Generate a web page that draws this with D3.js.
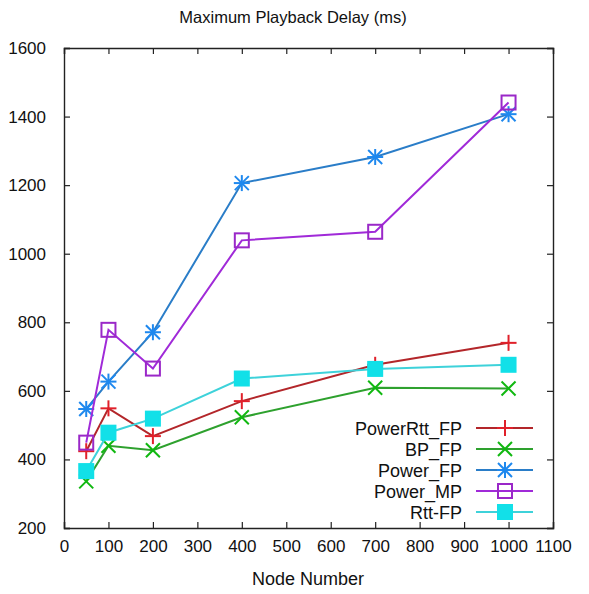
<!DOCTYPE html>
<html>
<head>
<meta charset="utf-8">
<script src="https://cdn.jsdelivr.net/npm/d3@7"></script>
<style>
  body { margin: 0; background: #fff; }
  svg text { font-family: "Liberation Sans", Arial, sans-serif; fill: #111; }
</style>
</head>
<body>
<div id="chart"></div>
<script>
// values
const nodes = [50, 100, 200, 400, 700, 1000];
const powerRttFP = [424, 549, 468, 570, 676, 740];
const bpFP = [336, 440, 427, 523, 609, 607];
const powerFP = [547, 627, 771, 1206, 1282, 1407];
const powerMP = [449, 778, 665, 1039, 1064, 1441];
const rttFP = [366, 478, 519, 636, 664, 676];
const xTicks = [0, 100, 200, 300, 400, 500, 600, 700, 800, 900, 1000, 1100];
const yTicks = [200, 400, 600, 800, 1000, 1200, 1400, 1600];

const series = [
  { name: "PowerRtt_FP", values: powerRttFP, line: "#b3262a", mark: "#e0202a", shape: "plus" },
  { name: "BP_FP", values: bpFP, line: "#2ea12e", mark: "#10b810", shape: "cross" },
  { name: "Power_FP", values: powerFP, line: "#2a7dc8", mark: "#1e88ee", shape: "star" },
  { name: "Power_MP", values: powerMP, line: "#a02ad8", mark: "#9a28c8", shape: "openSquare" },
  { name: "Rtt-FP", values: rttFP, line: "#3ed2da", mark: "#12e0e8", shape: "fillSquare" },
];

const width = 589, height = 594;
const margin = { top: 48, right: 36, bottom: 66, left: 64 };
const w = width - margin.left - margin.right;
const h = height - margin.top - margin.bottom;

const svg = d3.select("#chart").append("svg")
  .attr("width", width).attr("height", height);

const g = svg.append("g").attr("transform", `translate(${margin.left},${margin.top})`);

const x = d3.scaleLinear().domain([0, 1100]).range([0, w]);
const y = d3.scaleLinear().domain([200, 1600]).range([h, 0]);

// frame with inward ticks on all four sides
const tickLen = 6;
const fmt = d3.format("d");
g.append("g").attr("transform", `translate(0,${h})`)
  .call(d3.axisBottom(x).tickValues(xTicks).tickSize(-tickLen).tickPadding(12).tickFormat(fmt));
g.append("g")
  .call(d3.axisTop(x).tickValues(xTicks).tickSize(-tickLen).tickFormat(""));
g.append("g")
  .call(d3.axisLeft(y).tickValues(yTicks).tickSize(-tickLen).tickPadding(18).tickFormat(fmt));
g.append("g").attr("transform", `translate(${w},0)`)
  .call(d3.axisRight(y).tickValues(yTicks).tickSize(-tickLen).tickFormat(""));

g.selectAll(".domain").attr("stroke", "#222").attr("stroke-width", 1.4);
g.selectAll(".tick line").attr("stroke", "#222").attr("stroke-width", 1.2);
g.selectAll(".tick text").attr("font-size", 17).attr("fill", "#111")
  .attr("font-family", "Liberation Sans, Arial, sans-serif");

svg.append("text")
  .attr("x", 293).attr("y", 23)
  .attr("text-anchor", "middle").attr("font-size", 16.5)
  .text("Maximum Playback Delay (ms)");

svg.append("text")
  .attr("x", 308).attr("y", 585)
  .attr("text-anchor", "middle").attr("font-size", 18)
  .text("Node Number");

function drawMarker(sel, shape, color) {
  const s = 7;
  if (shape === "plus" || shape === "star") {
    sel.append("line").attr("x1", -s - 1).attr("x2", s + 1).attr("y1", 0).attr("y2", 0);
    sel.append("line").attr("x1", 0).attr("x2", 0).attr("y1", -s - 1).attr("y2", s + 1);
  }
  if (shape === "cross" || shape === "star") {
    sel.append("line").attr("x1", -s).attr("x2", s).attr("y1", -s).attr("y2", s);
    sel.append("line").attr("x1", -s).attr("x2", s).attr("y1", s).attr("y2", -s);
  }
  if (shape === "openSquare") {
    sel.append("rect").attr("x", -s).attr("y", -s).attr("width", 2 * s).attr("height", 2 * s)
      .attr("fill", "none");
  }
  if (shape === "fillSquare") {
    sel.append("rect").attr("x", -s).attr("y", -s).attr("width", 2 * s).attr("height", 2 * s)
      .attr("fill", color);
  }
  sel.selectAll("line, rect").attr("stroke", color).attr("stroke-width", 2);
}

const line = d3.line().x(d => x(d.n)).y(d => y(d.v));

series.forEach(s => {
  const pts = nodes.map((n, i) => ({ n: n, v: s.values[i] }));
  g.append("path").datum(pts)
    .attr("d", line)
    .attr("fill", "none")
    .attr("stroke", s.line)
    .attr("stroke-width", 2);
  g.selectAll(null).data(pts).enter().append("g")
    .attr("transform", d => `translate(${x(d.n)},${y(d.v)})`)
    .each(function () { drawMarker(d3.select(this), s.shape, s.mark); });
});

// legend, bottom right
const legend = svg.append("g").attr("transform", "translate(0,428)");
series.forEach((s, i) => {
  const row = legend.append("g").attr("transform", `translate(0,${i * 21})`);
  row.append("text")
    .attr("x", 462).attr("y", 6.5)
    .attr("text-anchor", "end").attr("font-size", 18)
    .text(s.name);
  row.append("line")
    .attr("x1", 476).attr("x2", 533).attr("y1", 0).attr("y2", 0)
    .attr("stroke", s.line).attr("stroke-width", 2);
  const m = row.append("g").attr("transform", "translate(505,0)");
  drawMarker(m, s.shape, s.mark);
});
</script>
</body>
</html>
